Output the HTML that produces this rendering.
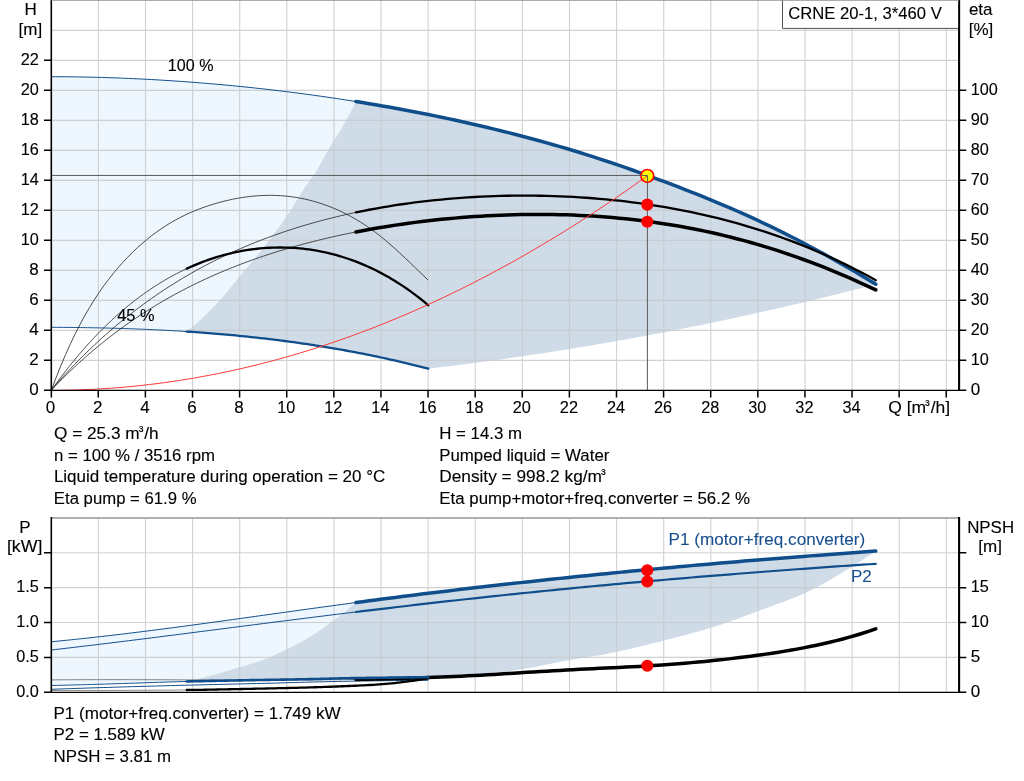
<!DOCTYPE html>
<html lang="en"><head><meta charset="utf-8"><title>CRNE 20-1, 3*460 V</title>
<style>html,body{margin:0;padding:0;background:#fff;overflow:hidden}svg{display:block}text{font-family:"Liberation Sans", Arial, Helvetica, sans-serif;font-size:17.0px;fill:#000;stroke:#000;stroke-width:0.12px}.b{fill:#184f8e;stroke:#184f8e;stroke-width:0.08px}.e{text-anchor:end}.m{text-anchor:middle}.g{stroke:#c6c8cb;stroke-opacity:0.82;stroke-width:1.1;fill:none}.ax{stroke:#000;fill:none}</style></head><body>
<svg width="1024" height="781" viewBox="0 0 1024 781">
<rect width="1024" height="781" fill="#fff"/>
<path d="M51.35 76.70L55.21 76.70L59.06 76.72L62.92 76.74L66.77 76.78L70.63 76.82L74.48 76.87L78.34 76.93L82.19 76.99L86.05 77.07L89.90 77.15L93.76 77.24L97.61 77.34L101.47 77.44L105.32 77.56L109.18 77.68L113.03 77.81L116.89 77.95L120.74 78.10L124.60 78.25L128.46 78.42L132.31 78.59L136.17 78.77L140.02 78.95L143.88 79.15L147.73 79.35L151.59 79.56L155.44 79.78L159.30 80.00L163.15 80.23L167.01 80.47L170.86 80.72L174.72 80.98L178.57 81.24L182.43 81.51L186.28 81.79L190.14 82.08L193.99 82.37L197.85 82.67L201.71 82.98L205.56 83.29L209.42 83.62L213.27 83.95L217.13 84.29L220.98 84.63L224.84 84.99L228.69 85.35L232.55 85.72L236.40 86.09L240.26 86.48L244.11 86.87L247.97 87.27L251.82 87.67L255.68 88.09L259.53 88.51L263.39 88.94L267.24 89.37L271.10 89.82L274.96 90.27L278.81 90.73L282.67 91.19L286.52 91.67L290.38 92.15L294.23 92.64L298.09 93.14L301.94 93.64L305.80 94.15L309.65 94.67L313.51 95.20L317.36 95.74L321.22 96.28L325.07 96.83L328.93 97.39L332.78 97.96L336.64 98.53L340.50 99.11L344.35 99.70L348.21 100.30L352.06 100.91L355.92 101.52L355.92 101.52L353.78 105.79L351.63 109.99L349.49 114.09L347.35 118.07L345.21 121.91L343.07 125.61L340.93 129.19L338.79 132.70L336.65 136.16L334.51 139.60L332.37 143.06L330.23 146.55L328.09 150.11L325.94 153.81L323.80 157.67L321.66 161.61L319.52 165.52L317.38 169.29L315.24 172.83L313.10 176.02L310.96 178.75L308.82 181.66L306.68 184.77L304.54 188.00L302.40 191.33L300.25 194.72L298.11 198.14L295.97 201.58L293.83 205.00L291.69 208.39L289.55 211.70L287.41 214.92L285.27 218.03L283.13 221.09L280.99 224.13L278.85 227.13L276.71 230.10L274.56 233.04L272.42 235.94L270.28 238.80L268.14 241.64L266.00 244.43L263.86 247.19L261.72 249.91L259.58 252.57L257.44 255.18L255.30 257.75L253.16 260.30L251.02 262.82L248.88 265.33L246.73 267.84L244.59 270.36L242.45 272.89L240.31 275.44L238.17 278.03L236.03 280.68L233.89 283.36L231.75 286.05L229.61 288.73L227.47 291.38L225.33 293.98L223.19 296.49L221.04 298.92L218.90 301.23L216.76 303.51L214.62 305.76L212.48 307.98L210.34 310.17L208.20 312.32L206.06 314.44L203.92 316.52L201.78 318.57L199.64 320.57L197.50 322.52L195.35 324.43L193.21 326.29L191.07 328.10L188.93 329.86L186.79 331.57L186.79 331.57L185.08 331.46L183.36 331.35L181.65 331.24L179.93 331.14L178.22 331.03L176.50 330.93L174.79 330.83L173.08 330.73L171.36 330.63L169.65 330.54L167.93 330.44L166.22 330.35L164.50 330.26L162.79 330.17L161.07 330.08L159.36 330.00L157.65 329.91L155.93 329.83L154.22 329.75L152.50 329.67L150.79 329.59L149.07 329.51L147.36 329.44L145.64 329.37L143.93 329.29L142.22 329.22L140.50 329.15L138.79 329.09L137.07 329.02L135.36 328.95L133.64 328.89L131.93 328.83L130.21 328.77L128.50 328.71L126.79 328.65L125.07 328.59L123.36 328.54L121.64 328.48L119.93 328.43L118.21 328.38L116.50 328.33L114.78 328.28L113.07 328.24L111.36 328.19L109.64 328.15L107.93 328.10L106.21 328.06L104.50 328.02L102.78 327.98L101.07 327.94L99.35 327.90L97.64 327.87L95.93 327.83L94.21 327.80L92.50 327.77L90.78 327.74L89.07 327.71L87.35 327.68L85.64 327.65L83.92 327.62L82.21 327.60L80.50 327.58L78.78 327.55L77.07 327.53L75.35 327.51L73.64 327.49L71.92 327.47L70.21 327.45L68.49 327.44L66.78 327.42L65.07 327.41L63.35 327.39L61.64 327.38L59.92 327.37L58.21 327.36L56.49 327.35L54.78 327.34L53.06 327.34L51.35 327.33Z" fill="#eef6fe"/>
<path d="M355.92 101.52L362.50 102.59L369.08 103.68L375.66 104.79L382.24 105.93L388.82 107.09L395.40 108.27L401.98 109.48L408.56 110.72L415.14 111.98L421.72 113.26L428.30 114.57L434.88 115.91L441.46 117.27L448.04 118.66L454.62 120.07L461.20 121.51L467.78 122.98L474.37 124.48L480.95 126.00L487.53 127.55L494.11 129.13L500.69 130.74L507.27 132.37L513.85 134.04L520.43 135.74L527.01 137.47L533.59 139.23L540.17 141.02L546.75 142.85L553.33 144.72L559.91 146.61L566.49 148.55L573.07 150.52L579.65 152.53L586.23 154.58L592.81 156.67L599.39 158.80L605.97 160.97L612.56 163.17L619.14 165.41L625.72 167.69L632.30 169.99L638.88 172.33L645.46 174.70L652.04 177.10L658.62 179.53L665.20 181.98L671.78 184.46L678.36 186.98L684.94 189.52L691.52 192.10L698.10 194.71L704.68 197.36L711.26 200.05L717.84 202.78L724.42 205.56L731.00 208.39L737.58 211.27L744.17 214.19L750.75 217.18L757.33 220.21L763.91 223.30L770.49 226.44L777.07 229.63L783.65 232.88L790.23 236.19L796.81 239.55L803.39 242.96L809.97 246.43L816.55 249.96L823.13 253.54L829.71 257.17L836.29 260.87L842.87 264.62L849.45 268.43L856.03 272.30L862.61 276.23L869.19 280.22L875.77 284.26L875.77 284.26L870.11 285.74L864.44 287.21L858.78 288.67L853.11 290.12L847.45 291.56L841.78 292.98L836.12 294.40L830.45 295.80L824.79 297.19L819.12 298.58L813.46 299.95L807.79 301.31L802.13 302.66L796.46 304.00L790.80 305.33L785.13 306.65L779.47 307.96L773.80 309.26L768.14 310.55L762.47 311.82L756.81 313.09L751.14 314.34L745.48 315.59L739.81 316.82L734.15 318.05L728.48 319.26L722.82 320.46L717.15 321.65L711.49 322.84L705.82 324.01L700.16 325.17L694.49 326.32L688.83 327.46L683.16 328.58L677.50 329.70L671.83 330.81L666.17 331.91L660.50 332.99L654.84 334.07L649.17 335.14L643.50 336.19L637.84 337.24L632.17 338.27L626.51 339.30L620.84 340.31L615.18 341.31L609.51 342.31L603.85 343.29L598.18 344.26L592.52 345.22L586.85 346.17L581.19 347.11L575.52 348.04L569.86 348.96L564.19 349.87L558.53 350.77L552.86 351.66L547.20 352.54L541.53 353.41L535.87 354.27L530.20 355.12L524.54 355.95L518.87 356.78L513.21 357.60L507.54 358.41L501.88 359.20L496.21 359.99L490.55 360.76L484.88 361.53L479.22 362.29L473.55 363.03L467.89 363.77L462.22 364.49L456.56 365.21L450.89 365.91L445.23 366.60L439.56 367.29L433.90 367.96L428.23 368.63L428.23 368.63L425.17 367.84L422.12 367.05L419.06 366.28L416.01 365.52L412.95 364.77L409.89 364.02L406.84 363.29L403.78 362.57L400.72 361.85L397.67 361.15L394.61 360.45L391.56 359.76L388.50 359.08L385.44 358.41L382.39 357.75L379.33 357.10L376.27 356.46L373.22 355.82L370.16 355.20L367.11 354.58L364.05 353.97L360.99 353.37L357.94 352.78L354.88 352.20L351.83 351.62L348.77 351.05L345.71 350.50L342.66 349.95L339.60 349.41L336.54 348.87L333.49 348.35L330.43 347.83L327.38 347.32L324.32 346.82L321.26 346.32L318.21 345.84L315.15 345.36L312.09 344.89L309.04 344.43L305.98 343.97L302.93 343.53L299.87 343.09L296.81 342.65L293.76 342.23L290.70 341.81L287.65 341.40L284.59 340.99L281.53 340.60L278.48 340.21L275.42 339.83L272.36 339.45L269.31 339.08L266.25 338.72L263.20 338.37L260.14 338.02L257.08 337.68L254.03 337.34L250.97 337.02L247.91 336.70L244.86 336.38L241.80 336.07L238.75 335.77L235.69 335.48L232.63 335.19L229.58 334.90L226.52 334.63L223.47 334.36L220.41 334.09L217.35 333.83L214.30 333.58L211.24 333.33L208.18 333.09L205.13 332.86L202.07 332.63L199.02 332.41L195.96 332.19L192.90 331.97L189.85 331.77L186.79 331.57L186.79 331.57L188.93 329.86L191.07 328.10L193.21 326.29L195.35 324.43L197.50 322.52L199.64 320.57L201.78 318.57L203.92 316.52L206.06 314.44L208.20 312.32L210.34 310.17L212.48 307.98L214.62 305.76L216.76 303.51L218.90 301.23L221.04 298.92L223.19 296.49L225.33 293.98L227.47 291.38L229.61 288.73L231.75 286.05L233.89 283.36L236.03 280.68L238.17 278.03L240.31 275.44L242.45 272.89L244.59 270.36L246.73 267.84L248.88 265.33L251.02 262.82L253.16 260.30L255.30 257.75L257.44 255.18L259.58 252.57L261.72 249.91L263.86 247.19L266.00 244.43L268.14 241.64L270.28 238.80L272.42 235.94L274.56 233.04L276.71 230.10L278.85 227.13L280.99 224.13L283.13 221.09L285.27 218.03L287.41 214.92L289.55 211.70L291.69 208.39L293.83 205.00L295.97 201.58L298.11 198.14L300.25 194.72L302.40 191.33L304.54 188.00L306.68 184.77L308.82 181.66L310.96 178.75L313.10 176.02L315.24 172.83L317.38 169.29L319.52 165.52L321.66 161.61L323.80 157.67L325.94 153.81L328.09 150.11L330.23 146.55L332.37 143.06L334.51 139.60L336.65 136.16L338.79 132.70L340.93 129.19L343.07 125.61L345.21 121.91L347.35 118.07L349.49 114.09L351.63 109.99L353.78 105.79L355.92 101.52Z" fill="#cfdce8"/>
<path d="M51.35 641.74L55.21 641.37L59.06 640.99L62.92 640.61L66.77 640.23L70.63 639.84L74.48 639.44L78.34 639.03L82.19 638.62L86.05 638.21L89.90 637.79L93.76 637.36L97.61 636.93L101.47 636.50L105.32 636.06L109.18 635.61L113.03 635.16L116.89 634.71L120.74 634.25L124.60 633.79L128.46 633.32L132.31 632.85L136.17 632.38L140.02 631.90L143.88 631.42L147.73 630.93L151.59 630.44L155.44 629.95L159.30 629.45L163.15 628.95L167.01 628.45L170.86 627.95L174.72 627.44L178.57 626.93L182.43 626.41L186.28 625.90L190.14 625.38L193.99 624.86L197.85 624.34L201.71 623.82L205.56 623.29L209.42 622.76L213.27 622.23L217.13 621.70L220.98 621.17L224.84 620.64L228.69 620.10L232.55 619.57L236.40 619.03L240.26 618.50L244.11 617.96L247.97 617.42L251.82 616.88L255.68 616.34L259.53 615.80L263.39 615.26L267.24 614.73L271.10 614.19L274.96 613.65L278.81 613.11L282.67 612.57L286.52 612.03L290.38 611.50L294.23 610.96L298.09 610.43L301.94 609.89L305.80 609.36L309.65 608.83L313.51 608.30L317.36 607.77L321.22 607.24L325.07 606.71L328.93 606.19L332.78 605.66L336.64 605.14L340.50 604.62L344.35 604.10L348.21 603.58L352.06 603.06L355.92 602.55L355.92 602.55L353.78 604.38L351.63 606.19L349.49 607.97L347.35 609.74L345.21 611.48L343.07 613.20L340.93 614.89L338.79 616.55L336.65 618.19L334.51 619.81L332.37 621.40L330.23 622.98L328.09 624.55L325.94 626.10L323.80 627.63L321.66 629.13L319.52 630.61L317.38 632.06L315.24 633.47L313.10 634.85L310.96 636.18L308.82 637.47L306.68 638.73L304.54 639.95L302.40 641.15L300.25 642.31L298.11 643.45L295.97 644.57L293.83 645.67L291.69 646.75L289.55 647.82L287.41 648.87L285.27 649.92L283.13 650.97L280.99 652.02L278.85 653.05L276.71 654.07L274.56 655.07L272.42 656.05L270.28 657.00L268.14 657.91L266.00 658.79L263.86 659.62L261.72 660.41L259.58 661.15L257.44 661.87L255.30 662.55L253.16 663.21L251.02 663.85L248.88 664.48L246.73 665.10L244.59 665.72L242.45 666.34L240.31 666.97L238.17 667.60L236.03 668.24L233.89 668.87L231.75 669.51L229.61 670.15L227.47 670.78L225.33 671.41L223.19 672.04L221.04 672.66L218.90 673.28L216.76 673.89L214.62 674.50L212.48 675.09L210.34 675.69L208.20 676.27L206.06 676.84L203.92 677.40L201.78 677.96L199.64 678.50L197.50 679.02L195.35 679.53L193.21 680.03L191.07 680.52L188.93 680.99L186.79 681.47L186.79 681.47L185.08 681.51L183.36 681.55L181.65 681.60L179.93 681.65L178.22 681.70L176.50 681.75L174.79 681.80L173.08 681.85L171.36 681.90L169.65 681.96L167.93 682.01L166.22 682.07L164.50 682.12L162.79 682.18L161.07 682.23L159.36 682.29L157.65 682.35L155.93 682.41L154.22 682.46L152.50 682.52L150.79 682.58L149.07 682.63L147.36 682.69L145.64 682.74L143.93 682.80L142.22 682.85L140.50 682.91L138.79 682.96L137.07 683.02L135.36 683.08L133.64 683.14L131.93 683.19L130.21 683.25L128.50 683.31L126.79 683.37L125.07 683.42L123.36 683.48L121.64 683.54L119.93 683.60L118.21 683.65L116.50 683.71L114.78 683.77L113.07 683.82L111.36 683.88L109.64 683.93L107.93 683.99L106.21 684.04L104.50 684.10L102.78 684.15L101.07 684.20L99.35 684.25L97.64 684.30L95.93 684.35L94.21 684.40L92.50 684.45L90.78 684.50L89.07 684.55L87.35 684.60L85.64 684.65L83.92 684.69L82.21 684.74L80.50 684.79L78.78 684.84L77.07 684.88L75.35 684.93L73.64 684.97L71.92 685.02L70.21 685.06L68.49 685.11L66.78 685.15L65.07 685.20L63.35 685.24L61.64 685.28L59.92 685.33L58.21 685.37L56.49 685.41L54.78 685.45L53.06 685.49L51.35 685.53Z" fill="#eef6fe"/>
<path d="M355.92 602.55L362.50 601.68L369.08 600.81L375.66 599.95L382.24 599.09L388.82 598.25L395.40 597.41L401.98 596.57L408.56 595.75L415.14 594.92L421.72 594.11L428.30 593.30L434.88 592.50L441.46 591.70L448.04 590.92L454.62 590.13L461.20 589.35L467.78 588.58L474.37 587.82L480.95 587.06L487.53 586.30L494.11 585.56L500.69 584.81L507.27 584.08L513.85 583.34L520.43 582.62L527.01 581.90L533.59 581.18L540.17 580.47L546.75 579.77L553.33 579.07L559.91 578.38L566.49 577.69L573.07 577.01L579.65 576.33L586.23 575.66L592.81 574.99L599.39 574.33L605.97 573.68L612.56 573.03L619.14 572.38L625.72 571.75L632.30 571.11L638.88 570.48L645.46 569.86L652.04 569.24L658.62 568.63L665.20 568.02L671.78 567.41L678.36 566.82L684.94 566.22L691.52 565.63L698.10 565.05L704.68 564.47L711.26 563.90L717.84 563.33L724.42 562.77L731.00 562.21L737.58 561.66L744.17 561.11L750.75 560.56L757.33 560.03L763.91 559.49L770.49 558.96L777.07 558.44L783.65 557.92L790.23 557.40L796.81 556.89L803.39 556.39L809.97 555.88L816.55 555.39L823.13 554.90L829.71 554.41L836.29 553.92L842.87 553.45L849.45 552.97L856.03 552.50L862.61 552.04L869.19 551.58L875.77 551.12L875.77 551.12L870.11 554.97L864.44 558.75L858.78 562.44L853.11 565.99L847.45 569.46L841.78 572.92L836.12 576.34L830.45 579.70L824.79 582.96L819.12 586.10L813.46 589.08L807.79 591.87L802.13 594.45L796.46 596.85L790.80 599.11L785.13 601.26L779.47 603.33L773.80 605.37L768.14 607.39L762.47 609.45L756.81 611.56L751.14 613.71L745.48 615.84L739.81 617.91L734.15 619.94L728.48 621.95L722.82 623.91L717.15 625.80L711.49 627.60L705.82 629.30L700.16 630.94L694.49 632.52L688.83 634.06L683.16 635.56L677.50 637.03L671.83 638.49L666.17 639.94L660.50 641.38L654.84 642.83L649.17 644.27L643.50 645.69L637.84 647.09L632.17 648.45L626.51 649.76L620.84 651.02L615.18 652.22L609.51 653.34L603.85 654.40L598.18 655.40L592.52 656.35L586.85 657.26L581.19 658.15L575.52 659.06L569.86 660.02L564.19 661.06L558.53 662.16L552.86 663.30L547.20 664.47L541.53 665.62L535.87 666.75L530.20 667.82L524.54 668.80L518.87 669.70L513.21 670.54L507.54 671.33L501.88 672.06L496.21 672.74L490.55 673.41L484.88 674.02L479.22 674.56L473.55 674.99L467.89 675.37L462.22 675.74L456.56 676.08L450.89 676.39L445.23 676.67L439.56 676.89L433.90 677.06L428.23 677.16L428.23 677.16L425.17 677.20L422.12 677.24L419.06 677.27L416.01 677.31L412.95 677.35L409.89 677.39L406.84 677.42L403.78 677.46L400.72 677.50L397.67 677.54L394.61 677.58L391.56 677.62L388.50 677.66L385.44 677.69L382.39 677.73L379.33 677.77L376.27 677.80L373.22 677.84L370.16 677.88L367.11 677.92L364.05 677.96L360.99 678.00L357.94 678.05L354.88 678.09L351.83 678.14L348.77 678.19L345.71 678.25L342.66 678.30L339.60 678.36L336.54 678.43L333.49 678.52L330.43 678.61L327.38 678.70L324.32 678.79L321.26 678.87L318.21 678.95L315.15 679.01L312.09 679.08L309.04 679.14L305.98 679.20L302.93 679.26L299.87 679.32L296.81 679.38L293.76 679.43L290.70 679.49L287.65 679.54L284.59 679.59L281.53 679.65L278.48 679.70L275.42 679.75L272.36 679.80L269.31 679.85L266.25 679.90L263.20 679.95L260.14 680.00L257.08 680.06L254.03 680.11L250.97 680.16L247.91 680.22L244.86 680.28L241.80 680.33L238.75 680.39L235.69 680.45L232.63 680.51L229.58 680.57L226.52 680.63L223.47 680.69L220.41 680.74L217.35 680.80L214.30 680.86L211.24 680.92L208.18 680.99L205.13 681.05L202.07 681.11L199.02 681.18L195.96 681.25L192.90 681.32L189.85 681.39L186.79 681.47L186.79 681.47L188.93 680.99L191.07 680.52L193.21 680.03L195.35 679.53L197.50 679.02L199.64 678.50L201.78 677.96L203.92 677.40L206.06 676.84L208.20 676.27L210.34 675.69L212.48 675.09L214.62 674.50L216.76 673.89L218.90 673.28L221.04 672.66L223.19 672.04L225.33 671.41L227.47 670.78L229.61 670.15L231.75 669.51L233.89 668.87L236.03 668.24L238.17 667.60L240.31 666.97L242.45 666.34L244.59 665.72L246.73 665.10L248.88 664.48L251.02 663.85L253.16 663.21L255.30 662.55L257.44 661.87L259.58 661.15L261.72 660.41L263.86 659.62L266.00 658.79L268.14 657.91L270.28 657.00L272.42 656.05L274.56 655.07L276.71 654.07L278.85 653.05L280.99 652.02L283.13 650.97L285.27 649.92L287.41 648.87L289.55 647.82L291.69 646.75L293.83 645.67L295.97 644.57L298.11 643.45L300.25 642.31L302.40 641.15L304.54 639.95L306.68 638.73L308.82 637.47L310.96 636.18L313.10 634.85L315.24 633.47L317.38 632.06L319.52 630.61L321.66 629.13L323.80 627.63L325.94 626.10L328.09 624.55L330.23 622.98L332.37 621.40L334.51 619.81L336.65 618.19L338.79 616.55L340.93 614.89L343.07 613.20L345.21 611.48L347.35 609.74L349.49 607.97L351.63 606.19L353.78 604.38L355.92 602.55Z" fill="#cfdce8"/>
<path class="g" d="M98.38 0.1V390.35M98.38 518.0V692.3M145.49 0.1V390.35M145.49 518.0V692.3M192.60 0.1V390.35M192.60 518.0V692.3M239.71 0.1V390.35M239.71 518.0V692.3M286.82 0.1V390.35M286.82 518.0V692.3M333.93 0.1V390.35M333.93 518.0V692.3M381.04 0.1V390.35M381.04 518.0V692.3M428.15 0.1V390.35M428.15 518.0V692.3M475.26 0.1V390.35M475.26 518.0V692.3M522.37 0.1V390.35M522.37 518.0V692.3M569.48 0.1V390.35M569.48 518.0V692.3M616.59 0.1V390.35M616.59 518.0V692.3M663.70 0.1V390.35M663.70 518.0V692.3M710.81 0.1V390.35M710.81 518.0V692.3M757.92 0.1V390.35M757.92 518.0V692.3M805.03 0.1V390.35M805.03 518.0V692.3M852.14 0.1V390.35M852.14 518.0V692.3M899.25 0.1V390.35M899.25 518.0V692.3M946.36 0.1V390.35M946.36 518.0V692.3M51.35 360.35H959.1M51.35 330.35H959.1M51.35 300.35H959.1M51.35 270.35H959.1M51.35 240.35H959.1M51.35 210.35H959.1M51.35 180.35H959.1M51.35 150.35H959.1M51.35 120.35H959.1M51.35 90.35H959.1M51.35 60.35H959.1M51.35 30.35H959.1M51.35 657.42H959.1M51.35 622.55H959.1M51.35 587.67H959.1M51.35 552.80H959.1"/>
<path d="M51.35 518.0H959.1" stroke="#969696" stroke-width="1.5" fill="none"/>
<path d="M51.35 76.70L55.21 76.70L59.06 76.72L62.92 76.74L66.77 76.78L70.63 76.82L74.48 76.87L78.34 76.93L82.19 76.99L86.05 77.07L89.90 77.15L93.76 77.24L97.61 77.34L101.47 77.44L105.32 77.56L109.18 77.68L113.03 77.81L116.89 77.95L120.74 78.10L124.60 78.25L128.46 78.42L132.31 78.59L136.17 78.77L140.02 78.95L143.88 79.15L147.73 79.35L151.59 79.56L155.44 79.78L159.30 80.00L163.15 80.23L167.01 80.47L170.86 80.72L174.72 80.98L178.57 81.24L182.43 81.51L186.28 81.79L190.14 82.08L193.99 82.37L197.85 82.67L201.71 82.98L205.56 83.29L209.42 83.62L213.27 83.95L217.13 84.29L220.98 84.63L224.84 84.99L228.69 85.35L232.55 85.72L236.40 86.09L240.26 86.48L244.11 86.87L247.97 87.27L251.82 87.67L255.68 88.09L259.53 88.51L263.39 88.94L267.24 89.37L271.10 89.82L274.96 90.27L278.81 90.73L282.67 91.19L286.52 91.67L290.38 92.15L294.23 92.64L298.09 93.14L301.94 93.64L305.80 94.15L309.65 94.67L313.51 95.20L317.36 95.74L321.22 96.28L325.07 96.83L328.93 97.39L332.78 97.96L336.64 98.53L340.50 99.11L344.35 99.70L348.21 100.30L352.06 100.91L355.92 101.52" stroke="#104e8b" stroke-width="1" fill="none"/>
<path d="M51.35 327.33L53.06 327.34L54.78 327.34L56.49 327.35L58.21 327.36L59.92 327.37L61.64 327.38L63.35 327.39L65.07 327.41L66.78 327.42L68.49 327.44L70.21 327.45L71.92 327.47L73.64 327.49L75.35 327.51L77.07 327.53L78.78 327.55L80.50 327.58L82.21 327.60L83.92 327.62L85.64 327.65L87.35 327.68L89.07 327.71L90.78 327.74L92.50 327.77L94.21 327.80L95.93 327.83L97.64 327.87L99.35 327.90L101.07 327.94L102.78 327.98L104.50 328.02L106.21 328.06L107.93 328.10L109.64 328.15L111.36 328.19L113.07 328.24L114.78 328.28L116.50 328.33L118.21 328.38L119.93 328.43L121.64 328.48L123.36 328.54L125.07 328.59L126.79 328.65L128.50 328.71L130.21 328.77L131.93 328.83L133.64 328.89L135.36 328.95L137.07 329.02L138.79 329.09L140.50 329.15L142.22 329.22L143.93 329.29L145.64 329.37L147.36 329.44L149.07 329.51L150.79 329.59L152.50 329.67L154.22 329.75L155.93 329.83L157.65 329.91L159.36 330.00L161.07 330.08L162.79 330.17L164.50 330.26L166.22 330.35L167.93 330.44L169.65 330.54L171.36 330.63L173.08 330.73L174.79 330.83L176.50 330.93L178.22 331.03L179.93 331.14L181.65 331.24L183.36 331.35L185.08 331.46L186.79 331.57" stroke="#104e8b" stroke-width="1" fill="none"/>
<path d="M355.92 101.52L362.50 102.59L369.08 103.68L375.66 104.79L382.24 105.93L388.82 107.09L395.40 108.27L401.98 109.48L408.56 110.72L415.14 111.98L421.72 113.26L428.30 114.57L434.88 115.91L441.46 117.27L448.04 118.66L454.62 120.07L461.20 121.51L467.78 122.98L474.37 124.48L480.95 126.00L487.53 127.55L494.11 129.13L500.69 130.74L507.27 132.37L513.85 134.04L520.43 135.74L527.01 137.47L533.59 139.23L540.17 141.02L546.75 142.85L553.33 144.72L559.91 146.61L566.49 148.55L573.07 150.52L579.65 152.53L586.23 154.58L592.81 156.67L599.39 158.80L605.97 160.97L612.56 163.17L619.14 165.41L625.72 167.69L632.30 169.99L638.88 172.33L645.46 174.70L652.04 177.10L658.62 179.53L665.20 181.98L671.78 184.46L678.36 186.98L684.94 189.52L691.52 192.10L698.10 194.71L704.68 197.36L711.26 200.05L717.84 202.78L724.42 205.56L731.00 208.39L737.58 211.27L744.17 214.19L750.75 217.18L757.33 220.21L763.91 223.30L770.49 226.44L777.07 229.63L783.65 232.88L790.23 236.19L796.81 239.55L803.39 242.96L809.97 246.43L816.55 249.96L823.13 253.54L829.71 257.17L836.29 260.87L842.87 264.62L849.45 268.43L856.03 272.30L862.61 276.23L869.19 280.22L875.77 284.26" stroke="#104e8b" stroke-width="3.5" stroke-linecap="round" fill="none"/>
<path d="M186.79 331.57L189.85 331.77L192.90 331.97L195.96 332.19L199.02 332.41L202.07 332.63L205.13 332.86L208.18 333.09L211.24 333.33L214.30 333.58L217.35 333.83L220.41 334.09L223.47 334.36L226.52 334.63L229.58 334.90L232.63 335.19L235.69 335.48L238.75 335.77L241.80 336.07L244.86 336.38L247.91 336.70L250.97 337.02L254.03 337.34L257.08 337.68L260.14 338.02L263.20 338.37L266.25 338.72L269.31 339.08L272.36 339.45L275.42 339.83L278.48 340.21L281.53 340.60L284.59 340.99L287.65 341.40L290.70 341.81L293.76 342.23L296.81 342.65L299.87 343.09L302.93 343.53L305.98 343.97L309.04 344.43L312.09 344.89L315.15 345.36L318.21 345.84L321.26 346.32L324.32 346.82L327.38 347.32L330.43 347.83L333.49 348.35L336.54 348.87L339.60 349.41L342.66 349.95L345.71 350.50L348.77 351.05L351.83 351.62L354.88 352.20L357.94 352.78L360.99 353.37L364.05 353.97L367.11 354.58L370.16 355.20L373.22 355.82L376.27 356.46L379.33 357.10L382.39 357.75L385.44 358.41L388.50 359.08L391.56 359.76L394.61 360.45L397.67 361.15L400.72 361.85L403.78 362.57L406.84 363.29L409.89 364.02L412.95 364.77L416.01 365.52L419.06 366.28L422.12 367.05L425.17 367.84L428.23 368.63" stroke="#104e8b" stroke-width="2.3" stroke-linecap="round" fill="none"/>
<path d="M51.35 389.82L55.21 385.41L59.06 381.09L62.92 376.84L66.77 372.68L70.63 368.59L74.48 364.57L78.34 360.63L82.19 356.76L86.05 352.97L89.90 349.24L93.76 345.59L97.61 342.00L101.47 338.48L105.32 335.03L109.18 331.64L113.03 328.32L116.89 325.06L120.74 321.86L124.60 318.72L128.46 315.64L132.31 312.63L136.17 309.67L140.02 306.77L143.88 303.92L147.73 301.14L151.59 298.40L155.44 295.72L159.30 293.09L163.15 290.52L167.01 287.99L170.86 285.52L174.72 283.10L178.57 280.72L182.43 278.39L186.28 276.11L190.14 273.88L193.99 271.69L197.85 269.55L201.71 267.45L205.56 265.39L209.42 263.38L213.27 261.40L217.13 259.47L220.98 257.58L224.84 255.73L228.69 253.92L232.55 252.15L236.40 250.41L240.26 248.71L244.11 247.05L247.97 245.43L251.82 243.84L255.68 242.28L259.53 240.76L263.39 239.28L267.24 237.82L271.10 236.40L274.96 235.01L278.81 233.65L282.67 232.33L286.52 231.03L290.38 229.76L294.23 228.53L298.09 227.32L301.94 226.14L305.80 224.99L309.65 223.86L313.51 222.77L317.36 221.70L321.22 220.65L325.07 219.64L328.93 218.65L332.78 217.68L336.64 216.74L340.50 215.82L344.35 214.93L348.21 214.06L352.06 213.21L355.92 212.39" stroke="#222" stroke-width="0.8" fill="none"/>
<path d="M51.35 390.14L55.21 386.11L59.06 382.15L62.92 378.27L66.77 374.48L70.63 370.75L74.48 367.11L78.34 363.54L82.19 360.04L86.05 356.61L89.90 353.25L93.76 349.96L97.61 346.73L101.47 343.58L105.32 340.48L109.18 337.45L113.03 334.49L116.89 331.58L120.74 328.73L124.60 325.94L128.46 323.21L132.31 320.54L136.17 317.92L140.02 315.35L143.88 312.84L147.73 310.38L151.59 307.97L155.44 305.61L159.30 303.29L163.15 301.03L167.01 298.81L170.86 296.64L174.72 294.51L178.57 292.43L182.43 290.39L186.28 288.40L190.14 286.44L193.99 284.53L197.85 282.65L201.71 280.82L205.56 279.02L209.42 277.26L213.27 275.53L217.13 273.85L220.98 272.19L224.84 270.57L228.69 268.99L232.55 267.44L236.40 265.92L240.26 264.43L244.11 262.98L247.97 261.55L251.82 260.16L255.68 258.79L259.53 257.45L263.39 256.14L267.24 254.86L271.10 253.61L274.96 252.38L278.81 251.18L282.67 250.00L286.52 248.85L290.38 247.72L294.23 246.62L298.09 245.54L301.94 244.49L305.80 243.45L309.65 242.44L313.51 241.46L317.36 240.49L321.22 239.55L325.07 238.62L328.93 237.72L332.78 236.84L336.64 235.98L340.50 235.13L344.35 234.31L348.21 233.51L352.06 232.72L355.92 231.96" stroke="#222" stroke-width="0.8" fill="none"/>
<path d="M51.35 390.27L56.12 377.58L60.89 365.63L65.66 354.39L70.43 343.81L75.20 333.87L79.97 324.53L84.74 315.76L89.52 307.54L94.29 299.82L99.06 292.58L103.83 285.77L108.60 279.38L113.37 273.36L118.14 267.69L122.91 262.32L127.68 257.24L132.45 252.44L137.22 247.90L141.99 243.61L146.76 239.58L151.53 235.78L156.30 232.21L161.07 228.87L165.85 225.73L170.62 222.80L175.39 220.06L180.16 217.51L184.93 215.14L189.70 212.93L194.47 210.89L199.24 208.99L204.01 207.24L208.78 205.61L213.55 204.12L218.32 202.73L223.09 201.46L227.86 200.30L232.63 199.26L237.40 198.34L242.18 197.53L246.95 196.85L251.72 196.29L256.49 195.86L261.26 195.55L266.03 195.38L270.80 195.34L275.57 195.43L280.34 195.66L285.11 196.03L289.88 196.54L294.65 197.19L299.42 197.99L304.19 198.94L308.96 200.04L313.73 201.29L318.51 202.69L323.28 204.25L328.05 205.97L332.82 207.85L337.59 209.89L342.36 212.10L347.13 214.47L351.90 217.03L356.67 219.76L361.44 222.68L366.21 225.79L370.98 229.09L375.75 232.59L380.52 236.29L385.29 240.19L390.06 244.27L394.84 248.50L399.61 252.86L404.38 257.32L409.15 261.85L413.92 266.43L418.69 271.02L423.46 275.60L428.23 280.15" stroke="#222" stroke-width="0.8" fill="none"/>
<path d="M51.35 390.29L53.06 387.89L54.78 385.51L56.49 383.15L58.21 380.82L59.92 378.52L61.64 376.24L63.35 373.98L65.07 371.76L66.78 369.55L68.49 367.37L70.21 365.22L71.92 363.09L73.64 360.99L75.35 358.90L77.07 356.85L78.78 354.81L80.50 352.80L82.21 350.82L83.92 348.86L85.64 346.92L87.35 345.00L89.07 343.11L90.78 341.24L92.50 339.39L94.21 337.56L95.93 335.76L97.64 333.98L99.35 332.22L101.07 330.48L102.78 328.77L104.50 327.07L106.21 325.40L107.93 323.75L109.64 322.12L111.36 320.51L113.07 318.92L114.78 317.35L116.50 315.80L118.21 314.28L119.93 312.77L121.64 311.29L123.36 309.82L125.07 308.37L126.79 306.95L128.50 305.54L130.21 304.16L131.93 302.79L133.64 301.44L135.36 300.11L137.07 298.80L138.79 297.51L140.50 296.24L142.22 294.98L143.93 293.75L145.64 292.53L147.36 291.34L149.07 290.16L150.79 289.00L152.50 287.85L154.22 286.73L155.93 285.62L157.65 284.53L159.36 283.46L161.07 282.40L162.79 281.36L164.50 280.34L166.22 279.34L167.93 278.36L169.65 277.39L171.36 276.44L173.08 275.50L174.79 274.58L176.50 273.68L178.22 272.80L179.93 271.93L181.65 271.08L183.36 270.24L185.08 269.42L186.79 268.62" stroke="#222" stroke-width="0.8" fill="none"/>
<path d="M355.92 212.39L362.50 211.04L369.08 209.75L375.66 208.53L382.24 207.37L388.82 206.27L395.40 205.23L401.98 204.24L408.56 203.32L415.14 202.45L421.72 201.64L428.30 200.88L434.88 200.17L441.46 199.52L448.04 198.92L454.62 198.37L461.20 197.87L467.78 197.42L474.37 197.02L480.95 196.67L487.53 196.38L494.11 196.12L500.69 195.92L507.27 195.77L513.85 195.67L520.43 195.61L527.01 195.60L533.59 195.64L540.17 195.73L546.75 195.87L553.33 196.06L559.91 196.30L566.49 196.59L573.07 196.92L579.65 197.31L586.23 197.75L592.81 198.24L599.39 198.78L605.97 199.37L612.56 200.02L619.14 200.72L625.72 201.47L632.30 202.28L638.88 203.15L645.46 204.07L652.04 205.05L658.62 206.09L665.20 207.19L671.78 208.34L678.36 209.56L684.94 210.84L691.52 212.18L698.10 213.59L704.68 215.06L711.26 216.60L717.84 218.21L724.42 219.88L731.00 221.63L737.58 223.44L744.17 225.33L750.75 227.29L757.33 229.33L763.91 231.44L770.49 233.62L777.07 235.89L783.65 238.23L790.23 240.66L796.81 243.17L803.39 245.76L809.97 248.44L816.55 251.20L823.13 254.06L829.71 257.00L836.29 260.03L842.87 263.15L849.45 266.37L856.03 269.68L862.61 273.08L869.19 276.59L875.77 280.19" stroke="#000" stroke-width="2.3" stroke-linecap="round" fill="none"/>
<path d="M355.92 231.96L362.50 230.69L369.08 229.48L375.66 228.32L382.24 227.21L388.82 226.15L395.40 225.13L401.98 224.17L408.56 223.25L415.14 222.38L421.72 221.56L428.30 220.78L434.88 220.05L441.46 219.36L448.04 218.72L454.62 218.12L461.20 217.57L467.78 217.06L474.37 216.59L480.95 216.17L487.53 215.80L494.11 215.47L500.69 215.18L507.27 214.94L513.85 214.74L520.43 214.59L527.01 214.49L533.59 214.43L540.17 214.42L546.75 214.46L553.33 214.55L559.91 214.68L566.49 214.86L573.07 215.09L579.65 215.38L586.23 215.71L592.81 216.09L599.39 216.53L605.97 217.02L612.56 217.56L619.14 218.16L625.72 218.81L632.30 219.52L638.88 220.28L645.46 221.10L652.04 221.98L658.62 222.92L665.20 223.91L671.78 224.97L678.36 226.08L684.94 227.26L691.52 228.49L698.10 229.79L704.68 231.16L711.26 232.58L717.84 234.07L724.42 235.63L731.00 237.25L737.58 238.93L744.17 240.68L750.75 242.50L757.33 244.39L763.91 246.34L770.49 248.36L777.07 250.45L783.65 252.60L790.23 254.83L796.81 257.12L803.39 259.48L809.97 261.91L816.55 264.41L823.13 266.97L829.71 269.61L836.29 272.31L842.87 275.08L849.45 277.92L856.03 280.83L862.61 283.80L869.19 286.84L875.77 289.94" stroke="#000" stroke-width="3.5" stroke-linecap="round" fill="none"/>
<path d="M186.79 268.62L189.85 267.22L192.90 265.88L195.96 264.59L199.02 263.35L202.07 262.15L205.13 261.01L208.18 259.91L211.24 258.87L214.30 257.87L217.35 256.92L220.41 256.01L223.47 255.15L226.52 254.34L229.58 253.58L232.63 252.86L235.69 252.18L238.75 251.56L241.80 250.97L244.86 250.44L247.91 249.95L250.97 249.50L254.03 249.10L257.08 248.74L260.14 248.43L263.20 248.16L266.25 247.93L269.31 247.76L272.36 247.62L275.42 247.53L278.48 247.48L281.53 247.48L284.59 247.53L287.65 247.61L290.70 247.75L293.76 247.92L296.81 248.14L299.87 248.41L302.93 248.72L305.98 249.08L309.04 249.48L312.09 249.93L315.15 250.43L318.21 250.97L321.26 251.56L324.32 252.19L327.38 252.87L330.43 253.60L333.49 254.38L336.54 255.21L339.60 256.08L342.66 257.01L345.71 257.98L348.77 259.00L351.83 260.08L354.88 261.20L357.94 262.38L360.99 263.61L364.05 264.89L367.11 266.22L370.16 267.61L373.22 269.06L376.27 270.55L379.33 272.11L382.39 273.72L385.44 275.39L388.50 277.12L391.56 278.90L394.61 280.75L397.67 282.66L400.72 284.63L403.78 286.66L406.84 288.75L409.89 290.91L412.95 293.13L416.01 295.42L419.06 297.78L422.12 300.20L425.17 302.70L428.23 305.26" stroke="#000" stroke-width="2.3" stroke-linecap="round" fill="none"/>
<path d="M51.35 175.45H647.4V390.35" stroke="#5a5a5a" stroke-width="1" fill="none"/>
<path d="M51.35 390.35L58.89 390.32L66.44 390.21L73.98 390.04L81.52 389.80L89.07 389.49L96.61 389.11L104.15 388.67L111.70 388.15L119.24 387.57L126.79 386.91L134.33 386.19L141.87 385.40L149.42 384.54L156.96 383.61L164.50 382.62L172.05 381.55L179.59 380.42L187.13 379.21L194.68 377.94L202.22 376.60L209.76 375.19L217.31 373.72L224.85 372.17L232.40 370.55L239.94 368.87L247.48 367.12L255.03 365.29L262.57 363.40L270.11 361.45L277.66 359.42L285.20 357.32L292.74 355.16L300.29 352.92L307.83 350.62L315.37 348.25L322.92 345.81L330.46 343.30L338.01 340.72L345.55 338.07L353.09 335.36L360.64 332.57L368.18 329.72L375.72 326.80L383.27 323.81L390.81 320.75L398.35 317.62L405.90 314.43L413.44 311.16L420.98 307.83L428.53 304.43L436.07 300.95L443.62 297.41L451.16 293.81L458.70 290.13L466.25 286.38L473.79 282.57L481.33 278.68L488.88 274.73L496.42 270.71L503.96 266.62L511.51 262.46L519.05 258.23L526.59 253.94L534.14 249.57L541.68 245.14L549.23 240.64L556.77 236.07L564.31 231.43L571.86 226.72L579.40 221.94L586.94 217.09L594.49 212.18L602.03 207.19L609.57 202.14L617.12 197.02L624.66 191.83L632.20 186.57L639.75 181.25L647.29 175.85" stroke="#ff3838" stroke-width="1" fill="none"/>
<path d="M51.35 641.74L55.21 641.37L59.06 640.99L62.92 640.61L66.77 640.23L70.63 639.84L74.48 639.44L78.34 639.03L82.19 638.62L86.05 638.21L89.90 637.79L93.76 637.36L97.61 636.93L101.47 636.50L105.32 636.06L109.18 635.61L113.03 635.16L116.89 634.71L120.74 634.25L124.60 633.79L128.46 633.32L132.31 632.85L136.17 632.38L140.02 631.90L143.88 631.42L147.73 630.93L151.59 630.44L155.44 629.95L159.30 629.45L163.15 628.95L167.01 628.45L170.86 627.95L174.72 627.44L178.57 626.93L182.43 626.41L186.28 625.90L190.14 625.38L193.99 624.86L197.85 624.34L201.71 623.82L205.56 623.29L209.42 622.76L213.27 622.23L217.13 621.70L220.98 621.17L224.84 620.64L228.69 620.10L232.55 619.57L236.40 619.03L240.26 618.50L244.11 617.96L247.97 617.42L251.82 616.88L255.68 616.34L259.53 615.80L263.39 615.26L267.24 614.73L271.10 614.19L274.96 613.65L278.81 613.11L282.67 612.57L286.52 612.03L290.38 611.50L294.23 610.96L298.09 610.43L301.94 609.89L305.80 609.36L309.65 608.83L313.51 608.30L317.36 607.77L321.22 607.24L325.07 606.71L328.93 606.19L332.78 605.66L336.64 605.14L340.50 604.62L344.35 604.10L348.21 603.58L352.06 603.06L355.92 602.55" stroke="#104e8b" stroke-width="1" fill="none"/>
<path d="M51.35 650.00L55.21 649.55L59.06 649.11L62.92 648.66L66.77 648.21L70.63 647.76L74.48 647.31L78.34 646.85L82.19 646.39L86.05 645.93L89.90 645.47L93.76 645.00L97.61 644.54L101.47 644.07L105.32 643.60L109.18 643.13L113.03 642.66L116.89 642.18L120.74 641.71L124.60 641.23L128.46 640.75L132.31 640.27L136.17 639.79L140.02 639.31L143.88 638.83L147.73 638.34L151.59 637.86L155.44 637.37L159.30 636.88L163.15 636.39L167.01 635.90L170.86 635.41L174.72 634.92L178.57 634.43L182.43 633.94L186.28 633.45L190.14 632.95L193.99 632.46L197.85 631.96L201.71 631.47L205.56 630.98L209.42 630.48L213.27 629.98L217.13 629.49L220.98 628.99L224.84 628.50L228.69 628.00L232.55 627.51L236.40 627.01L240.26 626.52L244.11 626.02L247.97 625.53L251.82 625.03L255.68 624.54L259.53 624.05L263.39 623.55L267.24 623.06L271.10 622.57L274.96 622.08L278.81 621.59L282.67 621.10L286.52 620.61L290.38 620.12L294.23 619.64L298.09 619.15L301.94 618.67L305.80 618.18L309.65 617.70L313.51 617.22L317.36 616.74L321.22 616.26L325.07 615.78L328.93 615.30L332.78 614.82L336.64 614.35L340.50 613.87L344.35 613.40L348.21 612.93L352.06 612.46L355.92 611.99" stroke="#104e8b" stroke-width="1" fill="none"/>
<path d="M51.35 679.89L55.21 679.85L59.06 679.82L62.92 679.79L66.77 679.77L70.63 679.75L74.48 679.73L78.34 679.71L82.19 679.69L86.05 679.68L89.90 679.67L93.76 679.66L97.61 679.65L101.47 679.65L105.32 679.64L109.18 679.64L113.03 679.64L116.89 679.65L120.74 679.65L124.60 679.65L128.46 679.66L132.31 679.67L136.17 679.68L140.02 679.69L143.88 679.70L147.73 679.71L151.59 679.73L155.44 679.74L159.30 679.75L163.15 679.77L167.01 679.78L170.86 679.80L174.72 679.82L178.57 679.83L182.43 679.85L186.28 679.87L190.14 679.89L193.99 679.90L197.85 679.92L201.71 679.94L205.56 679.95L209.42 679.97L213.27 679.99L217.13 680.00L220.98 680.02L224.84 680.03L228.69 680.04L232.55 680.05L236.40 680.07L240.26 680.08L244.11 680.08L247.97 680.09L251.82 680.10L255.68 680.10L259.53 680.11L263.39 680.11L267.24 680.11L271.10 680.11L274.96 680.10L278.81 680.10L282.67 680.09L286.52 680.08L290.38 680.07L294.23 680.06L298.09 680.04L301.94 680.02L305.80 680.00L309.65 679.98L313.51 679.95L317.36 679.92L321.22 679.89L325.07 679.86L328.93 679.82L332.78 679.78L336.64 679.74L340.50 679.69L344.35 679.64L348.21 679.59L352.06 679.53L355.92 679.47" stroke="#666" stroke-width="0.8" fill="none"/>
<path d="M51.35 690.56L53.06 690.56L54.78 690.56L56.49 690.56L58.21 690.55L59.92 690.55L61.64 690.55L63.35 690.55L65.07 690.55L66.78 690.55L68.49 690.55L70.21 690.54L71.92 690.54L73.64 690.54L75.35 690.54L77.07 690.53L78.78 690.53L80.50 690.53L82.21 690.52L83.92 690.52L85.64 690.51L87.35 690.51L89.07 690.51L90.78 690.50L92.50 690.50L94.21 690.49L95.93 690.49L97.64 690.48L99.35 690.48L101.07 690.47L102.78 690.46L104.50 690.46L106.21 690.45L107.93 690.45L109.64 690.44L111.36 690.43L113.07 690.43L114.78 690.42L116.50 690.41L118.21 690.40L119.93 690.40L121.64 690.39L123.36 690.38L125.07 690.37L126.79 690.36L128.50 690.36L130.21 690.35L131.93 690.34L133.64 690.33L135.36 690.32L137.07 690.31L138.79 690.30L140.50 690.29L142.22 690.28L143.93 690.27L145.64 690.26L147.36 690.25L149.07 690.24L150.79 690.23L152.50 690.22L154.22 690.21L155.93 690.20L157.65 690.19L159.36 690.18L161.07 690.17L162.79 690.16L164.50 690.15L166.22 690.14L167.93 690.13L169.65 690.11L171.36 690.10L173.08 690.09L174.79 690.08L176.50 690.07L178.22 690.05L179.93 690.04L181.65 690.03L183.36 690.02L185.08 690.00L186.79 689.99" stroke="#666" stroke-width="0.8" fill="none"/>
<path d="M51.35 685.53L53.06 685.49L54.78 685.45L56.49 685.41L58.21 685.37L59.92 685.33L61.64 685.28L63.35 685.24L65.07 685.20L66.78 685.15L68.49 685.11L70.21 685.06L71.92 685.02L73.64 684.97L75.35 684.93L77.07 684.88L78.78 684.84L80.50 684.79L82.21 684.74L83.92 684.69L85.64 684.65L87.35 684.60L89.07 684.55L90.78 684.50L92.50 684.45L94.21 684.40L95.93 684.35L97.64 684.30L99.35 684.25L101.07 684.20L102.78 684.15L104.50 684.10L106.21 684.04L107.93 683.99L109.64 683.93L111.36 683.88L113.07 683.82L114.78 683.77L116.50 683.71L118.21 683.65L119.93 683.60L121.64 683.54L123.36 683.48L125.07 683.42L126.79 683.37L128.50 683.31L130.21 683.25L131.93 683.19L133.64 683.14L135.36 683.08L137.07 683.02L138.79 682.96L140.50 682.91L142.22 682.85L143.93 682.80L145.64 682.74L147.36 682.69L149.07 682.63L150.79 682.58L152.50 682.52L154.22 682.46L155.93 682.41L157.65 682.35L159.36 682.29L161.07 682.23L162.79 682.18L164.50 682.12L166.22 682.07L167.93 682.01L169.65 681.96L171.36 681.90L173.08 681.85L174.79 681.80L176.50 681.75L178.22 681.70L179.93 681.65L181.65 681.60L183.36 681.55L185.08 681.51L186.79 681.47" stroke="#104e8b" stroke-width="1" fill="none"/>
<path d="M51.35 689.30L56.12 689.13L60.89 688.96L65.66 688.79L70.43 688.63L75.20 688.46L79.97 688.30L84.74 688.14L89.52 687.98L94.29 687.83L99.06 687.68L103.83 687.53L108.60 687.38L113.37 687.24L118.14 687.09L122.91 686.95L127.68 686.81L132.45 686.67L137.22 686.54L141.99 686.40L146.76 686.27L151.53 686.14L156.30 686.00L161.07 685.87L165.85 685.74L170.62 685.62L175.39 685.49L180.16 685.37L184.93 685.24L189.70 685.12L194.47 685.00L199.24 684.88L204.01 684.77L208.78 684.65L213.55 684.54L218.32 684.43L223.09 684.32L227.86 684.21L232.63 684.10L237.40 683.99L242.18 683.88L246.95 683.76L251.72 683.65L256.49 683.54L261.26 683.42L266.03 683.31L270.80 683.18L275.57 683.06L280.34 682.92L285.11 682.79L289.88 682.66L294.65 682.52L299.42 682.38L304.19 682.25L308.96 682.12L313.73 681.99L318.51 681.86L323.28 681.75L328.05 681.63L332.82 681.53L337.59 681.43L342.36 681.34L347.13 681.26L351.90 681.18L356.67 681.11L361.44 681.03L366.21 680.96L370.98 680.89L375.75 680.83L380.52 680.76L385.29 680.70L390.06 680.64L394.84 680.58L399.61 680.53L404.38 680.48L409.15 680.44L413.92 680.40L418.69 680.36L423.46 680.33L428.23 680.30" stroke="#104e8b" stroke-width="1" fill="none"/>
<path d="M186.79 689.99L189.85 689.96L192.90 689.93L195.96 689.89L199.02 689.84L202.07 689.80L205.13 689.74L208.18 689.69L211.24 689.63L214.30 689.56L217.35 689.50L220.41 689.43L223.47 689.37L226.52 689.30L229.58 689.24L232.63 689.17L235.69 689.11L238.75 689.04L241.80 688.98L244.86 688.92L247.91 688.86L250.97 688.80L254.03 688.74L257.08 688.68L260.14 688.61L263.20 688.55L266.25 688.49L269.31 688.42L272.36 688.36L275.42 688.29L278.48 688.22L281.53 688.15L284.59 688.08L287.65 688.01L290.70 687.93L293.76 687.86L296.81 687.78L299.87 687.70L302.93 687.61L305.98 687.53L309.04 687.44L312.09 687.35L315.15 687.25L318.21 687.16L321.26 687.06L324.32 686.96L327.38 686.85L330.43 686.74L333.49 686.63L336.54 686.51L339.60 686.39L342.66 686.27L345.71 686.15L348.77 686.02L351.83 685.89L354.88 685.75L357.94 685.61L360.99 685.47L364.05 685.31L367.11 685.15L370.16 684.98L373.22 684.80L376.27 684.61L379.33 684.40L382.39 684.19L385.44 683.94L388.50 683.66L391.56 683.36L394.61 683.03L397.67 682.68L400.72 682.32L403.78 681.94L406.84 681.54L409.89 681.14L412.95 680.74L416.01 680.32L419.06 679.86L422.12 679.38L425.17 678.87L428.23 678.35" stroke="#000" stroke-width="2.3" stroke-linecap="round" fill="none"/>
<path d="M355.92 679.47L362.50 679.36L369.08 679.23L375.66 679.10L382.24 678.95L388.82 678.79L395.40 678.62L401.98 678.44L408.56 678.24L415.14 678.04L421.72 677.81L428.30 677.58L434.88 677.33L441.46 677.06L448.04 676.78L454.62 676.49L461.20 676.18L467.78 675.85L474.37 675.51L480.95 675.15L487.53 674.78L494.11 674.40L500.69 674.00L507.27 673.60L513.85 673.19L520.43 672.78L527.01 672.37L533.59 671.96L540.17 671.56L546.75 671.16L553.33 670.77L559.91 670.39L566.49 670.02L573.07 669.67L579.65 669.33L586.23 669.00L592.81 668.68L599.39 668.37L605.97 668.05L612.56 667.74L619.14 667.41L625.72 667.08L632.30 666.74L638.88 666.38L645.46 666.00L652.04 665.59L658.62 665.16L665.20 664.71L671.78 664.23L678.36 663.73L684.94 663.19L691.52 662.63L698.10 662.04L704.68 661.42L711.26 660.77L717.84 660.09L724.42 659.38L731.00 658.63L737.58 657.86L744.17 657.04L750.75 656.20L757.33 655.31L763.91 654.39L770.49 653.43L777.07 652.43L783.65 651.37L790.23 650.26L796.81 649.10L803.39 647.87L809.97 646.57L816.55 645.21L823.13 643.76L829.71 642.24L836.29 640.63L842.87 638.94L849.45 637.15L856.03 635.26L862.61 633.26L869.19 631.11L875.77 628.78" stroke="#000" stroke-width="3.5" stroke-linecap="round" fill="none"/>
<path d="M186.79 681.47L189.85 681.39L192.90 681.32L195.96 681.25L199.02 681.18L202.07 681.11L205.13 681.05L208.18 680.99L211.24 680.92L214.30 680.86L217.35 680.80L220.41 680.74L223.47 680.69L226.52 680.63L229.58 680.57L232.63 680.51L235.69 680.45L238.75 680.39L241.80 680.33L244.86 680.28L247.91 680.22L250.97 680.16L254.03 680.11L257.08 680.06L260.14 680.00L263.20 679.95L266.25 679.90L269.31 679.85L272.36 679.80L275.42 679.75L278.48 679.70L281.53 679.65L284.59 679.59L287.65 679.54L290.70 679.49L293.76 679.43L296.81 679.38L299.87 679.32L302.93 679.26L305.98 679.20L309.04 679.14L312.09 679.08L315.15 679.01L318.21 678.95L321.26 678.87L324.32 678.79L327.38 678.70L330.43 678.61L333.49 678.52L336.54 678.43L339.60 678.36L342.66 678.30L345.71 678.25L348.77 678.19L351.83 678.14L354.88 678.09L357.94 678.05L360.99 678.00L364.05 677.96L367.11 677.92L370.16 677.88L373.22 677.84L376.27 677.80L379.33 677.77L382.39 677.73L385.44 677.69L388.50 677.66L391.56 677.62L394.61 677.58L397.67 677.54L400.72 677.50L403.78 677.46L406.84 677.42L409.89 677.39L412.95 677.35L416.01 677.31L419.06 677.27L422.12 677.24L425.17 677.20L428.23 677.16" stroke="#104e8b" stroke-width="2.6" stroke-linecap="round" fill="none"/>
<path d="M355.92 602.55L362.50 601.68L369.08 600.81L375.66 599.95L382.24 599.09L388.82 598.25L395.40 597.41L401.98 596.57L408.56 595.75L415.14 594.92L421.72 594.11L428.30 593.30L434.88 592.50L441.46 591.70L448.04 590.92L454.62 590.13L461.20 589.35L467.78 588.58L474.37 587.82L480.95 587.06L487.53 586.30L494.11 585.56L500.69 584.81L507.27 584.08L513.85 583.34L520.43 582.62L527.01 581.90L533.59 581.18L540.17 580.47L546.75 579.77L553.33 579.07L559.91 578.38L566.49 577.69L573.07 577.01L579.65 576.33L586.23 575.66L592.81 574.99L599.39 574.33L605.97 573.68L612.56 573.03L619.14 572.38L625.72 571.75L632.30 571.11L638.88 570.48L645.46 569.86L652.04 569.24L658.62 568.63L665.20 568.02L671.78 567.41L678.36 566.82L684.94 566.22L691.52 565.63L698.10 565.05L704.68 564.47L711.26 563.90L717.84 563.33L724.42 562.77L731.00 562.21L737.58 561.66L744.17 561.11L750.75 560.56L757.33 560.03L763.91 559.49L770.49 558.96L777.07 558.44L783.65 557.92L790.23 557.40L796.81 556.89L803.39 556.39L809.97 555.88L816.55 555.39L823.13 554.90L829.71 554.41L836.29 553.92L842.87 553.45L849.45 552.97L856.03 552.50L862.61 552.04L869.19 551.58L875.77 551.12" stroke="#104e8b" stroke-width="3.5" stroke-linecap="round" fill="none"/>
<path d="M355.92 611.99L362.50 611.19L369.08 610.40L375.66 609.61L382.24 608.82L388.82 608.04L395.40 607.26L401.98 606.49L408.56 605.72L415.14 604.96L421.72 604.20L428.30 603.44L434.88 602.69L441.46 601.94L448.04 601.20L454.62 600.47L461.20 599.74L467.78 599.01L474.37 598.29L480.95 597.58L487.53 596.87L494.11 596.17L500.69 595.47L507.27 594.78L513.85 594.09L520.43 593.41L527.01 592.74L533.59 592.07L540.17 591.40L546.75 590.74L553.33 590.09L559.91 589.44L566.49 588.79L573.07 588.15L579.65 587.52L586.23 586.89L592.81 586.27L599.39 585.65L605.97 585.04L612.56 584.43L619.14 583.82L625.72 583.22L632.30 582.63L638.88 582.04L645.46 581.46L652.04 580.88L658.62 580.30L665.20 579.73L671.78 579.17L678.36 578.60L684.94 578.05L691.52 577.50L698.10 576.95L704.68 576.41L711.26 575.87L717.84 575.34L724.42 574.81L731.00 574.28L737.58 573.76L744.17 573.25L750.75 572.74L757.33 572.23L763.91 571.73L770.49 571.23L777.07 570.73L783.65 570.24L790.23 569.76L796.81 569.27L803.39 568.80L809.97 568.32L816.55 567.85L823.13 567.39L829.71 566.93L836.29 566.47L842.87 566.02L849.45 565.57L856.03 565.12L862.61 564.68L869.19 564.24L875.77 563.80" stroke="#104e8b" stroke-width="2.2" stroke-linecap="round" fill="none"/>
<circle cx="647.29" cy="175.85" r="6.4" fill="#ffff00" stroke="#f00" stroke-width="1.6"/>
<path d="M642.29 180.05L647.29 175.85" stroke="#ff3838" stroke-width="1"/>
<path d="M641.29 175.45H647.4V181.85" stroke="#5a5a5a" stroke-width="1" fill="none"/>
<circle cx="647.29" cy="204.65" r="6.05" fill="#f00"/>
<circle cx="647.29" cy="221.75" r="6.05" fill="#f00"/>
<circle cx="647.29" cy="570.31" r="6.05" fill="#f00"/>
<circle cx="647.29" cy="581.47" r="6.05" fill="#f00"/>
<circle cx="647.29" cy="665.73" r="6.05" fill="#f00"/>
<path class="ax" stroke-width="1.6" d="M51.300000000000004 -1V391.0M51.300000000000004 517.1V692.9499999999999"/>
<path class="ax" stroke-width="2.1" d="M959.1 -1V391.0M959.1 517.1V692.9499999999999"/>
<path class="ax" stroke-width="1.3" d="M50.65 390.35H960.1M50.65 692.3H960.1"/>
<path class="ax" stroke-width="1.5" d="M44 390.35H51.35M44 360.35H51.35M44 330.35H51.35M44 300.35H51.35M44 270.35H51.35M44 240.35H51.35M44 210.35H51.35M44 180.35H51.35M44 150.35H51.35M44 120.35H51.35M44 90.35H51.35M44 60.35H51.35M959.1 390.35H966.3M959.1 360.35H966.3M959.1 330.35H966.3M959.1 300.35H966.3M959.1 270.35H966.3M959.1 240.35H966.3M959.1 210.35H966.3M959.1 180.35H966.3M959.1 150.35H966.3M959.1 120.35H966.3M959.1 90.35H966.3M44 692.30H51.35M959.1 692.30H966.3M44 657.42H51.35M959.1 657.42H966.3M44 622.55H51.35M959.1 622.55H966.3M44 587.67H51.35M959.1 587.67H966.3M44 552.80H51.35M959.1 552.80H966.3M51.35 390.35V397.6M98.28 390.35V397.6M145.39 390.35V397.6M192.50 390.35V397.6M239.61 390.35V397.6M286.72 390.35V397.6M333.83 390.35V397.6M380.94 390.35V397.6M428.05 390.35V397.6M475.16 390.35V397.6M522.27 390.35V397.6M569.38 390.35V397.6M616.49 390.35V397.6M663.60 390.35V397.6M710.71 390.35V397.6M757.82 390.35V397.6M804.93 390.35V397.6M852.04 390.35V397.6M899.15 390.35V397.6M946.26 390.35V397.6"/>
<rect x="782.5" y="0" width="175.60000000000002" height="28.4" fill="#fff"/>
<path d="M782.5 0V28.4H958.1" fill="none" stroke="#505050" stroke-width="1"/>
<text transform="matrix(0.9788 0 0 1 788.32 19)">CRNE 20-1, 3*460 V</text>
<path d="M51.35 0.1H959.1" stroke="#909090" stroke-width="1.4" fill="none"/>
<text class="e" x="38.8" y="394.9">0</text>
<text class="e" x="38.8" y="364.9">2</text>
<text class="e" x="38.8" y="334.9">4</text>
<text class="e" x="38.8" y="304.9">6</text>
<text class="e" x="38.8" y="274.9">8</text>
<text class="e" x="38.8" y="244.9" textLength="18.1" lengthAdjust="spacingAndGlyphs">10</text>
<text class="e" x="38.8" y="214.9" textLength="18.1" lengthAdjust="spacingAndGlyphs">12</text>
<text class="e" x="38.8" y="184.9" textLength="18.1" lengthAdjust="spacingAndGlyphs">14</text>
<text class="e" x="38.8" y="154.9" textLength="18.1" lengthAdjust="spacingAndGlyphs">16</text>
<text class="e" x="38.8" y="124.9" textLength="18.1" lengthAdjust="spacingAndGlyphs">18</text>
<text class="e" x="38.8" y="94.9" textLength="18.1" lengthAdjust="spacingAndGlyphs">20</text>
<text class="e" x="38.8" y="64.9" textLength="18.1" lengthAdjust="spacingAndGlyphs">22</text>
<text x="970.7" y="394.9">0</text>
<text x="970.7" y="364.9" textLength="18.1" lengthAdjust="spacingAndGlyphs">10</text>
<text x="970.7" y="334.9" textLength="18.1" lengthAdjust="spacingAndGlyphs">20</text>
<text x="970.7" y="304.9" textLength="18.1" lengthAdjust="spacingAndGlyphs">30</text>
<text x="970.7" y="274.9" textLength="18.1" lengthAdjust="spacingAndGlyphs">40</text>
<text x="970.7" y="244.9" textLength="18.1" lengthAdjust="spacingAndGlyphs">50</text>
<text x="970.7" y="214.9" textLength="18.1" lengthAdjust="spacingAndGlyphs">60</text>
<text x="970.7" y="184.9" textLength="18.1" lengthAdjust="spacingAndGlyphs">70</text>
<text x="970.7" y="154.9" textLength="18.1" lengthAdjust="spacingAndGlyphs">80</text>
<text x="970.7" y="124.9" textLength="18.1" lengthAdjust="spacingAndGlyphs">90</text>
<text x="970.7" y="94.9" textLength="27.1" lengthAdjust="spacingAndGlyphs">100</text>
<text class="m" x="50.6" y="413.0">0</text>
<text class="m" x="97.8" y="413.0">2</text>
<text class="m" x="144.9" y="413.0">4</text>
<text class="m" x="192.0" y="413.0">6</text>
<text class="m" x="239.1" y="413.0">8</text>
<text class="m" x="286.2" y="413.0" textLength="18.1" lengthAdjust="spacingAndGlyphs">10</text>
<text class="m" x="333.3" y="413.0" textLength="18.1" lengthAdjust="spacingAndGlyphs">12</text>
<text class="m" x="380.4" y="413.0" textLength="18.1" lengthAdjust="spacingAndGlyphs">14</text>
<text class="m" x="427.5" y="413.0" textLength="18.1" lengthAdjust="spacingAndGlyphs">16</text>
<text class="m" x="474.6" y="413.0" textLength="18.1" lengthAdjust="spacingAndGlyphs">18</text>
<text class="m" x="521.8" y="413.0" textLength="18.1" lengthAdjust="spacingAndGlyphs">20</text>
<text class="m" x="568.9" y="413.0" textLength="18.1" lengthAdjust="spacingAndGlyphs">22</text>
<text class="m" x="616.0" y="413.0" textLength="18.1" lengthAdjust="spacingAndGlyphs">24</text>
<text class="m" x="663.1" y="413.0" textLength="18.1" lengthAdjust="spacingAndGlyphs">26</text>
<text class="m" x="710.2" y="413.0" textLength="18.1" lengthAdjust="spacingAndGlyphs">28</text>
<text class="m" x="757.3" y="413.0" textLength="18.1" lengthAdjust="spacingAndGlyphs">30</text>
<text class="m" x="804.4" y="413.0" textLength="18.1" lengthAdjust="spacingAndGlyphs">32</text>
<text class="m" x="851.5" y="413.0" textLength="18.1" lengthAdjust="spacingAndGlyphs">34</text>
<text transform="matrix(1.0292 0 0 1 888.23 413)">Q [m<tspan font-size="14px" dx="-1" dy="-2.7">³</tspan><tspan dx="0.8" dy="2.7">/h]</tspan></text>
<text x="24.4" y="15">H</text>
<text x="18.5" y="35">[m]</text>
<text x="968.9" y="15">eta</text>
<text x="968.7" y="35">[%]</text>
<text x="19.3" y="533">P</text>
<text transform="matrix(1.0413 0 0 1 6.95 552)">[kW]</text>
<text transform="matrix(0.9944 0 0 1 967.16 533)">NPSH</text>
<text x="978.3" y="552">[m]</text>
<text class="e" x="38.8" y="696.8" textLength="22.6" lengthAdjust="spacingAndGlyphs">0.0</text>
<text class="e" x="38.8" y="662.0" textLength="22.6" lengthAdjust="spacingAndGlyphs">0.5</text>
<text class="e" x="38.8" y="627.1" textLength="22.6" lengthAdjust="spacingAndGlyphs">1.0</text>
<text class="e" x="38.8" y="592.2" textLength="22.6" lengthAdjust="spacingAndGlyphs">1.5</text>
<text x="970.7" y="696.8">0</text>
<text x="970.7" y="662.0">5</text>
<text x="970.7" y="627.1" textLength="18.1" lengthAdjust="spacingAndGlyphs">10</text>
<text x="970.7" y="592.2" textLength="18.1" lengthAdjust="spacingAndGlyphs">15</text>
<text transform="matrix(0.9481 0 0 1 167.81 71)">100 %</text>
<text transform="matrix(0.9629 0 0 1 117.17 321)">45 %</text>
<text transform="matrix(1.0148 0 0 1 53.99 439)">Q = 25.3 m<tspan font-size="14px" dx="-1" dy="-2.7">³</tspan><tspan dx="0.8" dy="2.7">/h</tspan></text>
<text transform="matrix(0.9891 0 0 1 53.91 461)">n = 100 % / 3516 rpm</text>
<text x="53.9" y="482">Liquid temperature during operation = 20 °C</text>
<text transform="matrix(0.9836 0 0 1 53.87 504)">Eta pump = 61.9 %</text>
<text transform="matrix(0.9907 0 0 1 439.26 439)">H = 14.3 m</text>
<text transform="matrix(0.9912 0 0 1 439.26 461)">Pumped liquid = Water</text>
<text transform="matrix(1.0170 0 0 1 439.22 482)">Density = 998.2 kg/m<tspan font-size="14px" dx="-1" dy="-2.7">³</tspan></text>
<text transform="matrix(0.9928 0 0 1 439.26 504)">Eta pump+motor+freq.converter = 56.2 %</text>
<text transform="matrix(1.0046 0 0 1 53.49 719)">P1 (motor+freq.converter) = 1.749 kW</text>
<text transform="matrix(0.9955 0 0 1 53.51 740)">P2 = 1.589 kW</text>
<text transform="matrix(0.9918 0 0 1 53.51 762)">NPSH = 3.81 m</text>
<text class="b" transform="matrix(1.0088 0 0 1 668.54 545)">P1 (motor+freq.converter)</text>
<text class="b" x="850.9" y="582">P2</text>
</svg></body></html>
